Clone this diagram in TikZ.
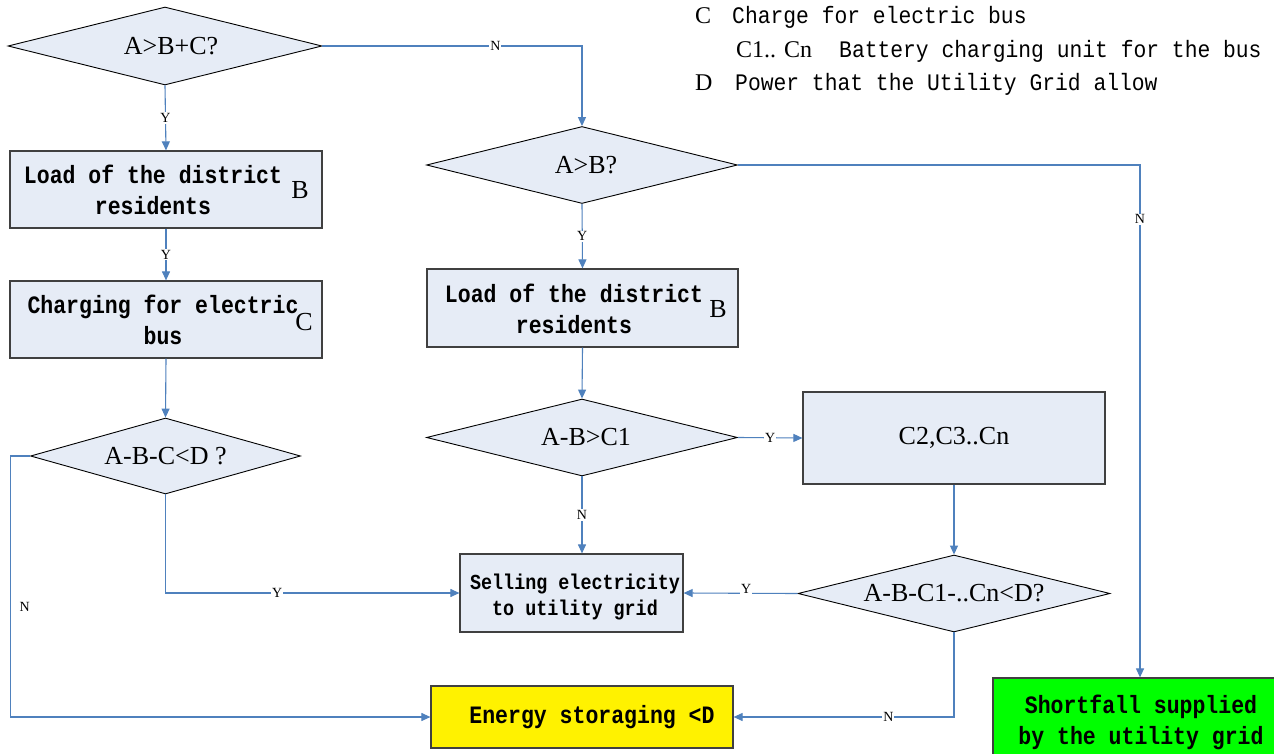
\documentclass[tikz,border=0pt]{standalone}
\usepackage{fontspec}
\setmainfont{Liberation Serif}
\newfontfamily\monofnt{Liberation Mono}[FakeStretch=0.86]
\newfontfamily\legfnt{Liberation Mono}[FakeStretch=0.9]
\usetikzlibrary{shapes.geometric,arrows.meta}
\definecolor{fillb}{RGB}{230,236,246}
\definecolor{linec}{RGB}{79,129,189}
\definecolor{boxd}{RGB}{64,64,64}
\begin{document}
\begin{tikzpicture}[x=1pt,y=-1pt,
 dia/.style={diamond, draw=black, line width=0.9pt, fill=fillb, inner sep=0pt, aspect=4, font=\fontsize{26}{28}\selectfont},
 box/.style={rectangle, draw=boxd, line width=1.2pt, fill=fillb, inner sep=0pt},
 btxt/.style={align=center, font=\monofnt\bfseries\fontsize{25}{31}\selectfont, inner sep=0pt},
 stxt/.style={align=center, font=\monofnt\bfseries\fontsize{21.4}{26}\selectfont, inner sep=0pt},
 legtxt/.style={font=\legfnt\fontsize{23.7}{25}\selectfont, inner sep=0pt, anchor=base west},
 conn/.style={draw=linec, line width=1.1pt, -{Triangle[length=9pt,width=8pt]}},
 lab/.style={font=\fontsize{14}{14}\selectfont, fill=white, inner sep=1pt},
 ser/.style={font=\fontsize{26}{28}\selectfont, inner sep=0pt},
 legser/.style={font=\fontsize{24}{25}\selectfont, inner sep=0pt, anchor=base west},
 ]
\useasboundingbox (0,0) rectangle (1274,754);
\clip (0,0) rectangle (1274,754);
\fill[white] (0,0) rectangle (1274,754);

% legend
\node[legser] (lgc) at (695,24) {C};
\node[legtxt] (lgct) at (732,24) {Charge for electric bus};
\node[legser] (lgcn) at (736,58) {C1.. Cn};
\node[legtxt] (lgcnt) at (839,58) {Battery charging unit for the bus};
\node[legser] (lgd) at (695,91) {D};
\node[legtxt] (lgdt) at (735,91) {Power that the Utility Grid allow};

% left column
\node[dia, minimum width=314, minimum height=78] (d1) at (165,46) {\hspace{12pt}A>B+C?};
\node[box, minimum width=312, minimum height=77] (b1) at (166,189.5) {};
\node[btxt] (t1) at (153,190) {Load of the district\\residents};
\node[ser] (lb1) at (300,190) {B};
\node[box, minimum width=312, minimum height=77] (b2) at (166,319.5) {};
\node[btxt] (t2) at (163,320) {Charging for electric\\bus};
\node[ser] (lc) at (304,322) {C};
\node[dia, minimum width=270, minimum height=76] (d3) at (165.5,456) {A-B-C<D ?};

% middle column
\node[dia, minimum width=311, minimum height=77] (d2) at (582,165) {\hspace{8pt}A>B?};
\node[box, minimum width=311, minimum height=78] (l2) at (582.5,308) {};
\node[btxt] (t3) at (574,309) {Load of the district\\residents};
\node[ser] (lb2) at (718,309) {B};
\node[dia, minimum width=311, minimum height=77] (d4) at (582,437.5) {\hspace{8pt}A-B>C1};
\node[box, minimum width=223, minimum height=78] (sell) at (571.5,593) {};
\node[stxt] (t4) at (575,597) {Selling electricity\\to utility grid};
\node[box, fill=yellow, minimum width=302, minimum height=62] (en) at (582,717) {};
\node[btxt] (t5) at (592,717) {Energy storaging <D};

% right column
\node[box, minimum width=302, minimum height=92, font=\fontsize{26}{28}\selectfont] (c2) at (954,438) {C2,C3..Cn};
\node[dia, minimum width=312, minimum height=77] (d5) at (954,593.5) {A-B-C1-..Cn<D?};
\node[box, fill=green, minimum width=294, minimum height=82] (sh) at (1140,719) {};
\node[btxt] (t6) at (1141,722) {Shortfall supplied\\by the utility grid};

% connectors
\draw[conn] (d1.east) -| node[lab, pos=0.333] {N} (d2.north);
\draw[conn] (d1.south) -- node[lab] {Y} (b1.north);
\draw[conn] (b1.south) -- node[lab] {Y} (b2.north);
\draw[conn] (b2.south) -- (d3.north);
\draw[conn] (d3.south) |- node[lab, pos=0.69] {Y} (sell.west);
\draw[conn] (d3.west) -- ++(-20,0) |- node[pos=0.29, right=8pt, font=\fontsize{14}{14}\selectfont, inner sep=1pt] {N} (en.west);
\draw[conn] (d2.south) -- node[lab] {Y} (l2.north);
\draw[conn] (d2.east) -| node[lab, pos=0.553] {N} (sh.north);
\draw[conn] (l2.south) -- (d4.north);
\draw[conn] (d4.east) -- node[lab] {Y} (c2.west);
\draw[conn] (d4.south) -- node[lab] {N} (d4.south |- sell.north);
\draw[conn] (c2.south) -- (d5.north);
\draw[conn] (d5.west) -- node[lab, pos=0.45, yshift=4pt] {Y} (sell.east);
\draw[conn] (d5.south) |- node[lab, pos=0.649] {N} (en.east);
\end{tikzpicture}
\end{document}
